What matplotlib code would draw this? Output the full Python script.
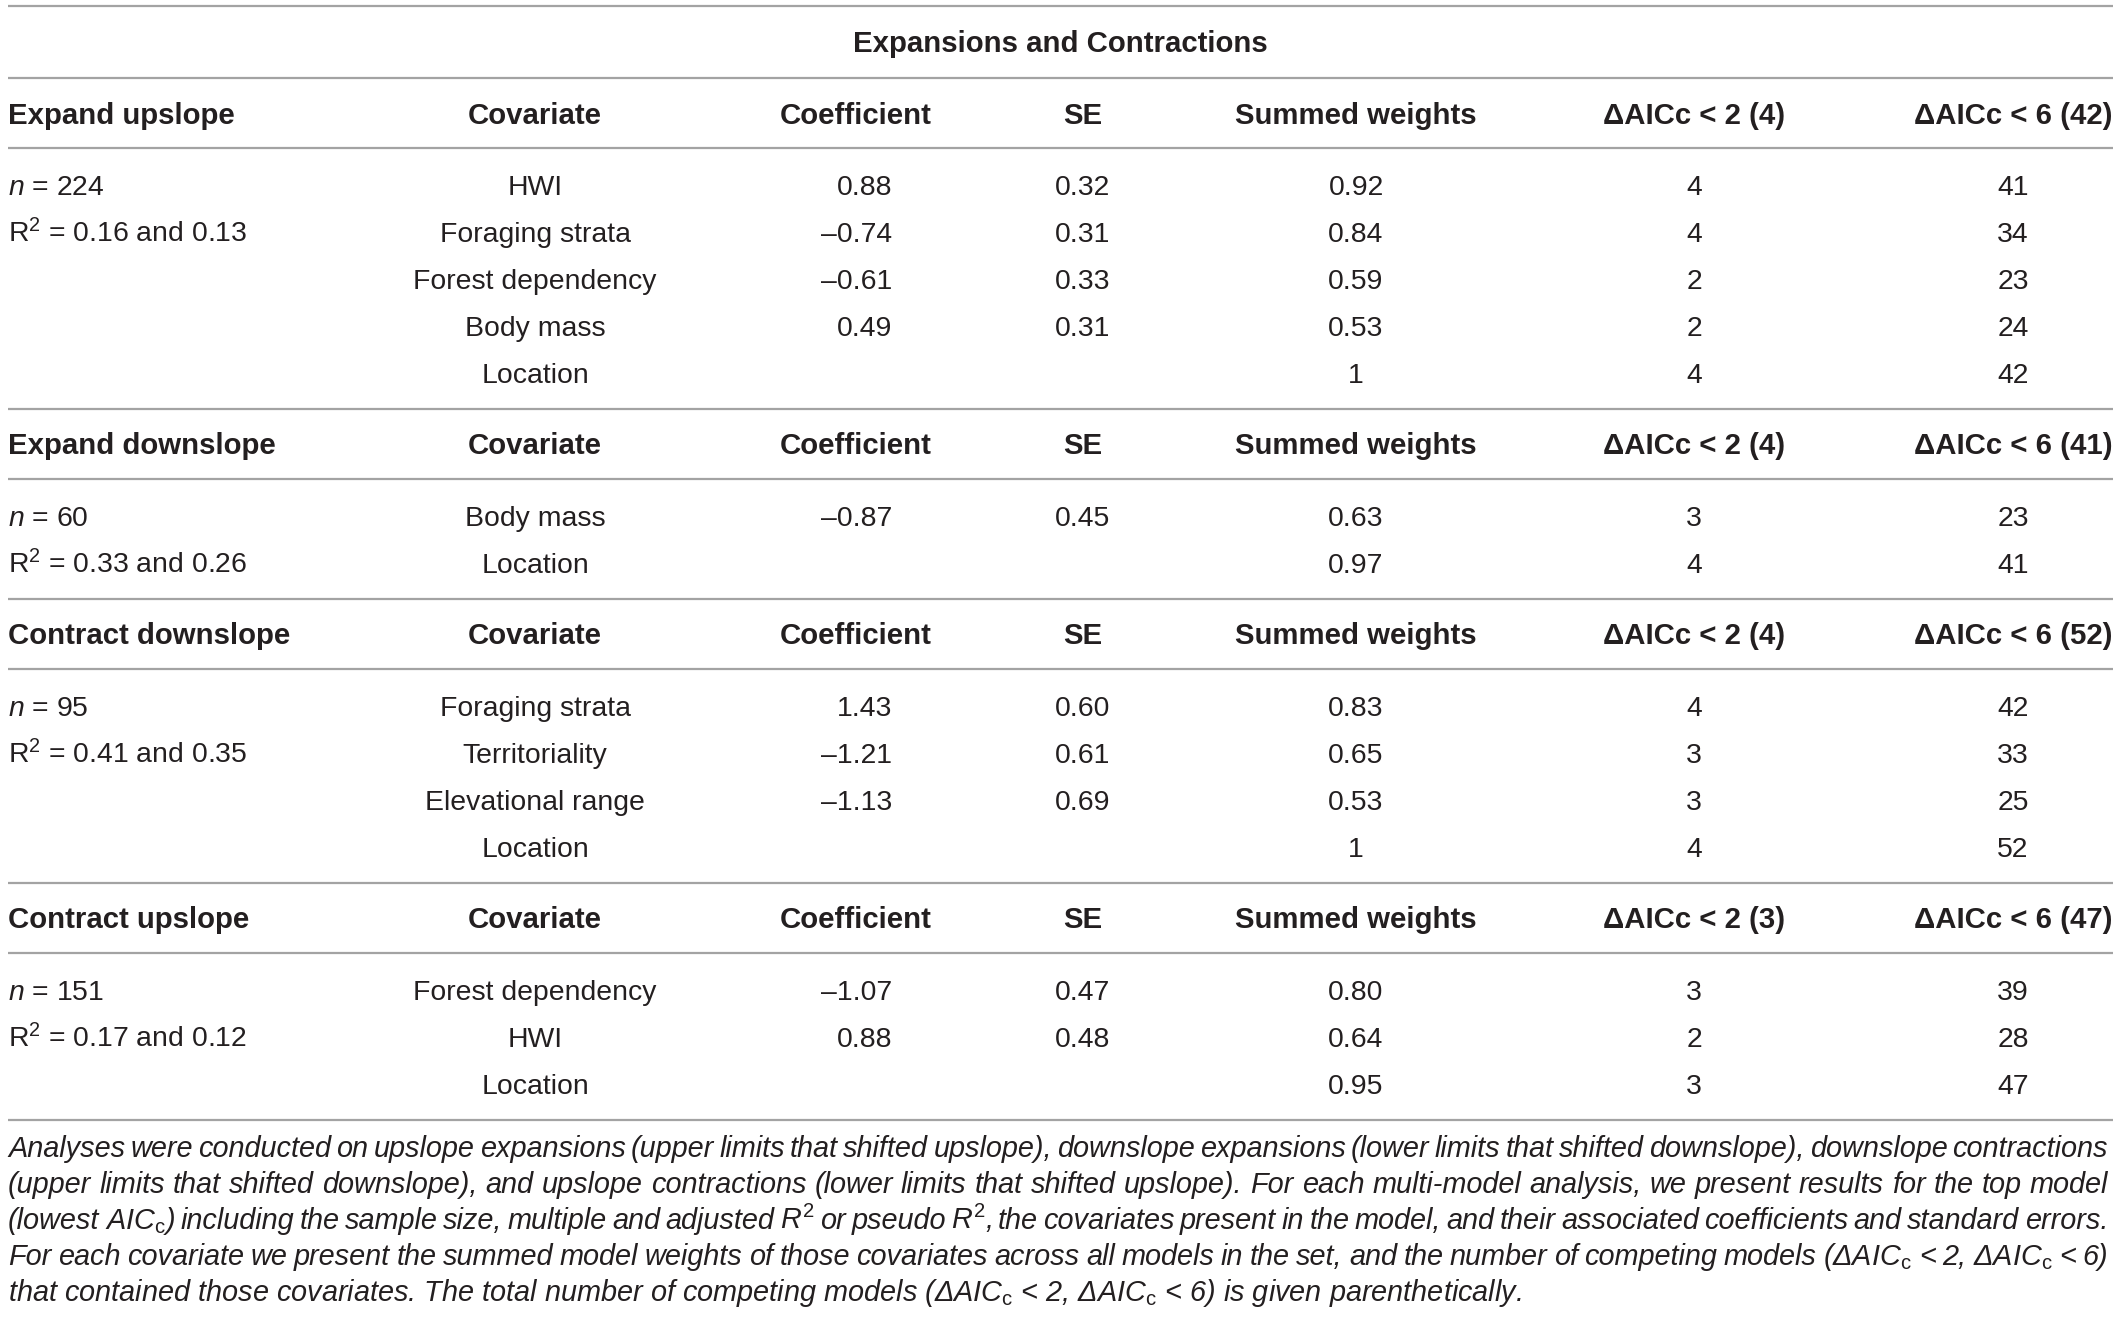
import matplotlib
matplotlib.use("Agg")
import matplotlib.pyplot as plt

plt.rcParams['font.family'] = ['Liberation Sans', 'DejaVu Sans']
plt.rcParams['mathtext.fontset'] = 'custom'
plt.rcParams['mathtext.rm'] = 'Liberation Sans'
plt.rcParams['mathtext.it'] = 'Liberation Sans:italic'
plt.rcParams['mathtext.bf'] = 'Liberation Sans:bold'
plt.rcParams['mathtext.sf'] = 'Liberation Sans'

# ---------------- data ----------------
title = "Expansions and Contractions"
sections = ["Expand upslope", "Expand downslope", "Contract downslope", "Contract upslope"]
n_values = [224, 60, 95, 151]
r2_multiple = ["0.16", "0.33", "0.41", "0.17"]
r2_adjusted = ["0.13", "0.26", "0.35", "0.12"]
total_models_2 = [4, 4, 4, 3]
total_models_6 = [42, 41, 52, 47]

covariates = [
    ["HWI", "Foraging strata", "Forest dependency", "Body mass", "Location"],
    ["Body mass", "Location"],
    ["Foraging strata", "Territoriality", "Elevational range", "Location"],
    ["Forest dependency", "HWI", "Location"],
]
coefficients = [
    [0.88, -0.74, -0.61, 0.49, None],
    [-0.87, None],
    [1.43, -1.21, -1.13, None],
    [-1.07, 0.88, None],
]
std_errors = [
    [0.32, 0.31, 0.33, 0.31, None],
    [0.45, None],
    [0.60, 0.61, 0.69, None],
    [0.47, 0.48, None],
]
summed_weights = [
    ["0.92", "0.84", "0.59", "0.53", "1"],
    ["0.63", "0.97"],
    ["0.83", "0.65", "0.53", "1"],
    ["0.80", "0.64", "0.95"],
]
models_daicc2 = [
    [4, 4, 2, 2, 4],
    [3, 4],
    [4, 3, 3, 4],
    [3, 2, 3],
]
models_daicc6 = [
    [41, 34, 23, 24, 42],
    [23, 41],
    [42, 33, 25, 52],
    [39, 28, 47],
]

caption_lines = [
    "Analyses were conducted on upslope expansions (upper limits that shifted upslope), downslope expansions (lower limits that shifted downslope), downslope contractions",
    "(upper limits that shifted downslope), and upslope contractions (lower limits that shifted upslope). For each multi-model analysis, we present results for the top model",
    r"(lowest AIC$_{\mathrm{c}}$) including the sample size, multiple and adjusted $\mathit{R}^{2}$ or pseudo $\mathit{R}^{2}$, the covariates present in the model, and their associated coefficients and standard errors.",
    r"For each covariate we present the summed model weights of those covariates across all models in the set, and the number of competing models (ΔAIC$_{\mathrm{c}}$ < 2, ΔAIC$_{\mathrm{c}}$ < 6)",
    r"that contained those covariates. The total number of competing models (ΔAIC$_{\mathrm{c}}$ < 2, ΔAIC$_{\mathrm{c}}$ < 6) is given parenthetically.",
]

# ---------------- layout ----------------
W, H = 2120, 1317
fig = plt.figure(figsize=(W / 100, H / 100), dpi=100)
ax = fig.add_axes([0, 0, 1, 1])
ax.set_xlim(0, W)
ax.set_ylim(H, 0)
ax.axis('off')

TXT = '#231f20'
RULE = '#a3a3a3'
FS = 20.4
FS_BOLD = 21.2
FS_CAP = 20.8
LEFT, RIGHT = 8, 2113
X_COV, X_COEF_R, X_SE, X_SW, X_D2, X_D6 = 535, 892, 1083, 1356, 1694, 2013
BASE = 10  # baseline offset below visual centre


def rule(y):
    ax.hlines(y, LEFT, RIGHT, colors=RULE, linewidth=1.6)


def txt(x, yc, s, ha='center', bold=False, italic=False):
    ax.text(x, yc + BASE, s, ha=ha, va='baseline',
            fontsize=FS_BOLD if bold else FS, color=TXT,
            fontweight='bold' if bold else 'normal',
            fontstyle='italic' if italic else 'normal')


rule(6)
txt(W / 2, 42, title, bold=True)
y = 78
rule(y)

for s, name in enumerate(sections):
    hy = y + 35.5
    txt(LEFT, hy, name, ha='left', bold=True)
    txt(X_COV, hy, "Covariate", bold=True)
    txt(856, hy, "Coefficient", bold=True)
    txt(X_SE, hy, "SE", bold=True)
    txt(X_SW, hy, "Summed weights", bold=True)
    txt(X_D2, hy, f"ΔAICc < 2 ({total_models_2[s]})", bold=True)
    txt(X_D6, hy, f"ΔAICc < 6 ({total_models_6[s]})", bold=True)
    y += 70
    rule(y)
    ry = y + 37
    txt(LEFT, ry, rf"$\mathit{{n}}$ = {n_values[s]}", ha='left')
    txt(LEFT, ry + 47, rf"R$^{{2}}$ = {r2_multiple[s]} and {r2_adjusted[s]}", ha='left')
    for i, cov in enumerate(covariates[s]):
        yy = ry + 47 * i
        txt(X_COV, yy, cov)
        c = coefficients[s][i]
        if c is not None:
            txt(X_COEF_R, yy, (f"{c:.2f}").replace('-', '\u2013'), ha='right')
        e = std_errors[s][i]
        if e is not None:
            txt(X_SE, yy, f"{e:.2f}")
        txt(X_SW, yy, summed_weights[s][i])
        txt(X_D2, yy, str(models_daicc2[s][i]))
        txt(X_D6, yy, str(models_daicc6[s][i]))
    y = ry + 47 * (len(covariates[s]) - 1) + 36
    rule(y)

# caption, justified
fig.canvas.draw()
renderer = fig.canvas.get_renderer()
cap_left, cap_right = 8, 2108
cap_y0, cap_step = 1157, 36
for i, line in enumerate(caption_lines):
    yb = cap_y0 + cap_step * i
    if i == len(caption_lines) - 1:
        ax.text(cap_left, yb, line, ha='left', va='baseline', fontsize=FS_CAP,
                fontstyle='italic', color=TXT)
        continue
    words = line.split(' ')
    texts = [ax.text(0, yb, w, ha='left', va='baseline', fontsize=FS_CAP,
                     fontstyle='italic', color=TXT) for w in words]
    widths = [t.get_window_extent(renderer).width for t in texts]
    gap = (cap_right - cap_left - sum(widths)) / (len(words) - 1)
    x = cap_left
    for t, wd in zip(texts, widths):
        t.set_x(x)
        x += wd + gap

fig.savefig("out.png", dpi=100, facecolor='white')
